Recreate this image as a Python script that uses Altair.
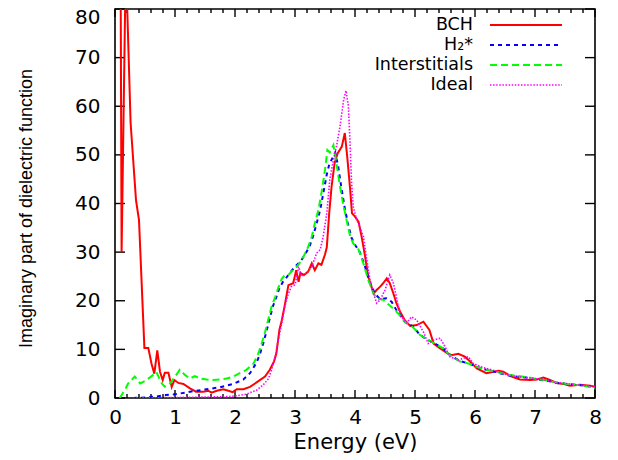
import altair as alt
import pandas as pd

# ---------------- data ----------------
bch_e = [0.09, 0.11, 0.18, 0.26, 0.35, 0.40, 0.49, 0.555, 0.61, 0.655, 0.705, 0.75, 0.795, 0.83, 0.89,
         0.945, 0.99, 1.055, 1.14, 1.25, 1.35, 1.47, 1.555, 1.61, 1.695, 1.805, 1.89, 1.96, 2.03, 2.14,
         2.25, 2.36, 2.5, 2.58, 2.65, 2.69, 2.74, 2.78, 2.83, 2.89, 2.97, 3.02, 3.06, 3.09, 3.15, 3.22,
         3.28, 3.33, 3.39, 3.44, 3.5, 3.53, 3.57, 3.61, 3.66, 3.71, 3.78, 3.83, 3.87, 3.92, 3.95, 4.0,
         4.06, 4.11, 4.17, 4.22, 4.31, 4.36, 4.42, 4.47, 4.53, 4.58, 4.64, 4.69, 4.75, 4.83, 4.92, 5.03,
         5.14, 5.24, 5.31, 5.42, 5.53, 5.61, 5.72, 5.83, 5.92, 6.03, 6.19, 6.31, 6.39, 6.47, 6.61, 6.75,
         6.92, 7.03, 7.14, 7.25, 7.36, 7.47, 7.58, 7.75, 7.92, 8.0]
bch_v = [100, 30, 90, 56.6, 40.7, 36.6, 10.3, 10.3, 7.0, 5.0, 9.8, 5.4, 3.7, 5.2, 5.2,
         2.3, 3.7, 3.1, 2.9, 2.0, 1.3, 1.3, 1.5, 1.1, 1.5, 1.8, 1.5, 1.2, 1.8, 1.8,
         2.3, 3.2, 4.4, 5.8, 7.5, 9.2, 14.0, 16.0, 19.1, 23.2, 23.6, 26.3, 23.9, 25.7, 25.3, 26.0,
         27.7, 26.3, 27.7, 27.4, 29.5, 31.0, 38.0, 43.5, 48.3, 50.3, 51.7, 54.5, 49.7, 42.8, 38.0, 37.3,
         36.2, 33.2, 29.0, 25.0, 21.5, 22.2, 22.9, 23.6, 24.6, 23.6, 21.5, 19.5, 17.8, 16.0, 14.8, 15.0,
         15.7, 14.0, 11.2, 10.2, 9.3, 8.8, 9.1, 8.5, 7.5, 6.1, 5.1, 5.4, 5.6, 5.4, 4.4, 3.8,
         3.7, 3.8, 4.2, 3.7, 3.1, 2.9, 2.5, 2.7, 2.5, 2.3]

h2_e = [0.3, 0.5, 0.69, 0.85, 1.03, 1.25, 1.53, 1.75, 1.97, 2.14, 2.25, 2.36, 2.42, 2.47, 2.52, 2.58,
        2.63, 2.69, 2.74, 2.8, 2.86, 2.92, 3.0, 3.1, 3.17, 3.24, 3.3, 3.36, 3.42, 3.47, 3.53, 3.58,
        3.61, 3.67, 3.72, 3.77, 3.83, 3.88, 3.94, 4.0, 4.08, 4.16, 4.24, 4.33, 4.42, 4.52, 4.61, 4.68,
        4.75, 4.83, 4.97, 5.08, 5.22, 5.33, 5.47, 5.58, 5.75, 5.92, 6.03, 6.19, 6.36, 6.53, 6.69, 6.86,
        7.03, 7.19, 7.36, 7.53, 7.69, 7.86, 8.0]
h2_v = [0.0, 0.1, 0.3, 0.6, 0.8, 1.3, 1.8, 2.2, 2.9, 3.8, 5.1, 7.3, 9.2, 11.2, 13.5, 16.4,
        18.8, 20.8, 22.6, 23.9, 24.8, 25.8, 27.0, 28.2, 29.6, 31.1, 33.2, 35.9, 38.7, 42.0, 46.0, 48.5,
        49.0, 50.5, 47.6, 43.5, 39.0, 36.0, 33.0, 31.5, 30.0, 27.3, 24.0, 21.5, 20.3, 20.5, 19.8, 18.3,
        17.1, 15.7, 14.7, 13.0, 11.9, 11.2, 10.2, 8.8, 7.6, 7.0, 6.4, 5.8, 5.3, 4.7, 4.4, 4.2,
        3.8, 3.6, 3.1, 2.9, 2.7, 2.5, 2.1]

int_e = [0.08, 0.18, 0.22, 0.33, 0.42, 0.5, 0.6, 0.69, 0.78, 0.83, 0.92, 1.0, 1.08, 1.17, 1.25, 1.33,
         1.42, 1.53, 1.64, 1.75, 1.86, 1.97, 2.08, 2.19, 2.31, 2.39, 2.44, 2.5, 2.56, 2.61, 2.67, 2.72,
         2.78, 2.83, 2.89, 2.94, 3.03, 3.11, 3.17, 3.22, 3.28, 3.33, 3.39, 3.44, 3.5, 3.54, 3.58, 3.64,
         3.69, 3.75, 3.81, 3.86, 3.92, 3.97, 4.06, 4.14, 4.22, 4.31, 4.36, 4.47, 4.58, 4.67, 4.75, 4.83,
         4.97, 5.08, 5.22, 5.33, 5.47, 5.58, 5.75, 5.92, 6.03, 6.19, 6.36, 6.53, 6.69, 6.86, 7.03, 7.19,
         7.36, 7.53, 7.69, 7.86, 8.0]
int_v = [0.0, 2.0, 3.0, 4.4, 3.0, 3.5, 4.4, 5.3, 3.0, 2.3, 3.0, 4.4, 5.8, 4.7, 4.0, 4.5,
         4.0, 3.8, 3.7, 3.8, 4.0, 4.4, 5.1, 5.8, 7.1, 9.2, 11.0, 13.5, 16.4, 18.8, 20.8, 22.6,
         24.5, 25.3, 25.3, 26.0, 27.0, 28.3, 29.8, 31.1, 33.2, 35.9, 38.7, 42.1, 46.9, 51.0, 50.5, 52.0,
         48.3, 43.5, 39.4, 36.6, 33.2, 31.8, 30.5, 27.7, 24.3, 21.5, 20.5, 20.2, 19.0, 18.0, 17.0, 15.7,
         14.5, 13.0, 11.9, 11.2, 10.2, 8.8, 7.5, 7.0, 6.4, 5.8, 5.4, 4.8, 4.6, 4.3, 3.9, 3.6,
         3.2, 2.9, 2.7, 2.4, 2.0]

ideal_e = [0.3, 1.0, 1.5, 1.9, 2.0, 2.19, 2.36, 2.47, 2.56, 2.61, 2.67, 2.72, 2.78, 2.83, 2.89, 2.94,
           3.0, 3.03, 3.06, 3.11, 3.19, 3.28, 3.36, 3.42, 3.47, 3.53, 3.58, 3.64, 3.69, 3.75, 3.81, 3.85,
           3.89, 3.92, 3.94, 3.97, 4.03, 4.08, 4.14, 4.19, 4.25, 4.31, 4.36, 4.42, 4.5, 4.58, 4.64, 4.69,
           4.75, 4.86, 4.94, 5.03, 5.14, 5.22, 5.31, 5.42, 5.5, 5.58, 5.72, 5.89, 5.97, 6.1, 6.3, 6.5,
           6.7, 6.9, 7.1, 7.3, 7.5, 7.7, 7.9, 8.0]
ideal_v = [0.0, 0.1, 0.2, 0.3, 0.4, 0.8, 1.6, 2.7, 4.0, 5.8, 8.5, 11.9, 15.4, 18.8, 21.5, 22.9,
           23.3, 25.0, 27.0, 25.0, 25.7, 27.0, 29.8, 30.5, 33.2, 38.0, 44.9, 49.0, 51.7, 55.8, 61.3, 63.2,
           60.0, 51.7, 44.9, 39.4, 36.6, 35.2, 33.2, 29.0, 24.3, 21.5, 19.5, 20.2, 22.2, 25.3, 23.6, 20.8,
           17.1, 15.4, 16.7, 16.0, 13.6, 11.2, 11.9, 12.3, 10.6, 8.5, 7.8, 8.5, 7.1, 6.4, 5.7, 4.9,
           4.4, 4.1, 3.9, 3.3, 3.0, 2.7, 2.5, 2.3]

series_names = ["BCH", "H\u2082*", "Interstitials", "Ideal"]
series_e = [bch_e, h2_e, int_e, ideal_e]
series_v = [bch_v, h2_v, int_v, ideal_v]
series_colors = ["#ff0000", "#0000ff", "#00ff00", "#ff00ff"]
series_dash = [None, [4, 4], [7, 4], [1.5, 1.6]]
series_width = [2.0, 2.0, 2.0, 1.6]

x_major = list(range(0, 9))
x_minor = [i / 5 for i in range(0, 41) if i % 5 != 0]
y_major = list(range(0, 90, 10))

# ---------------- layout ----------------
W, H = 480, 389
FONT = "DejaVu Sans"
xs = alt.Scale(domain=[0, 8], nice=False, zero=False)
ys = alt.Scale(domain=[0, 80], nice=False, zero=False)

x_axis = alt.Axis(values=x_major, ticks=False, domain=False, grid=False, labelPadding=9,
                  labelFont=FONT, labelFontSize=20, labelColor="#000", labelFlush=False,
                  title="Energy (eV)", titleFont=FONT, titleFontSize=21, titleFontWeight="normal",
                  titleColor="#000", titleX=240, titleY=44, titleBaseline="middle", titleAlign="center")
y_axis = alt.Axis(values=y_major, ticks=False, domain=False, grid=False, labelPadding=15,
                  labelFont=FONT, labelFontSize=20, labelColor="#000", labelFlush=False,
                  labelBaseline="middle",
                  labelOffset={"condition": {"test": "datum.value >= 80", "value": 8}, "value": 0},
                  title="Imaginary part of dielectric function", titleFont="Liberation Sans",
                  titleFontSize=18, titleFontWeight="normal", titleColor="#000",
                  titleAngle=270, titleX=-89, titleY=199, titleBaseline="middle", titleAlign="center")


def X(field):
    return alt.X(field, scale=xs, axis=x_axis)


def Y(field):
    return alt.Y(field, scale=ys, axis=y_axis)


layers = []

# tick marks (inward, all four sides)
xmaj = pd.DataFrame({"t": x_major})
xmin = pd.DataFrame({"t": x_minor})
ymaj = pd.DataFrame({"t": y_major})
tick_style = dict(color="#000", strokeWidth=1.4)
layers.append(alt.Chart(xmaj).mark_rule(**tick_style).encode(
    x=X("t:Q"), y=alt.value(H), y2=alt.value(H - 8)))
layers.append(alt.Chart(xmaj).mark_rule(**tick_style).encode(
    x=X("t:Q"), y=alt.value(0), y2=alt.value(8)))
layers.append(alt.Chart(xmin).mark_rule(**tick_style).encode(
    x=X("t:Q"), y=alt.value(H), y2=alt.value(H - 4)))
layers.append(alt.Chart(xmin).mark_rule(**tick_style).encode(
    x=X("t:Q"), y=alt.value(0), y2=alt.value(4)))
layers.append(alt.Chart(ymaj).mark_rule(**tick_style).encode(
    y=Y("t:Q"), x=alt.value(0), x2=alt.value(10)))
layers.append(alt.Chart(ymaj).mark_rule(**tick_style).encode(
    y=Y("t:Q"), x=alt.value(W), x2=alt.value(W - 10)))

# data curves
for name, e, v, col, dash, w in zip(series_names, series_e, series_v, series_colors,
                                     series_dash, series_width):
    df = pd.DataFrame({"t": e, "v": v, "series": name})
    mk = dict(color=col, strokeWidth=w, clip=True)
    if dash is not None:
        mk["strokeDash"] = dash
    layers.append(alt.Chart(df).mark_line(**mk).encode(
        x=X("t:Q"), y=alt.Y("v:Q", scale=ys, axis=y_axis), order=alt.Order("t:Q")))

# legend (gnuplot style: label on the left, sample on the right)
row_y = [16, 36, 56, 76]
for i, (name, col, dash, w) in enumerate(zip(series_names, series_colors, series_dash, series_width)):
    ldf = pd.DataFrame({"label": [name]})
    layers.append(alt.Chart(ldf).mark_text(align="right", baseline="middle", font=FONT,
                                           fontSize=17.5, color="#000").encode(
        text="label:N", x=alt.value(358), y=alt.value(row_y[i])))
    rk = dict(color=col, strokeWidth=w)
    if dash is not None:
        rk["strokeDash"] = dash
    layers.append(alt.Chart(ldf).mark_rule(**rk).encode(
        x=alt.value(375), x2=alt.value(447), y=alt.value(row_y[i])))

chart = alt.layer(*layers).properties(
    width=W, height=H,
    autosize=alt.AutoSizeParams(type="none"),
    padding={"left": 107, "top": 1, "right": 15, "bottom": 55},
    background="white",
).configure_view(stroke="#000", strokeWidth=1.6)

chart.save("out.html", embed_options={"renderer": "svg", "actions": False})
